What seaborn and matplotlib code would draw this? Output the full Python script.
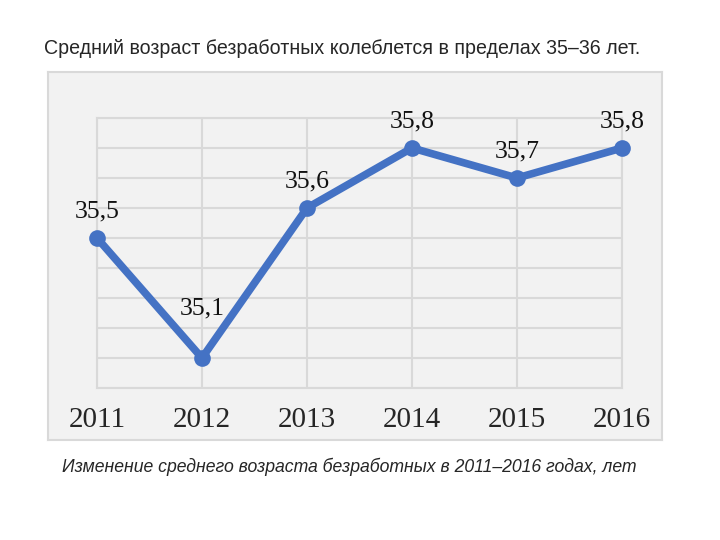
"""
Average age of the unemployed, 2011-2016 (slide-style line chart).
"""

import numpy as np
import pandas as pd
import matplotlib.pyplot as plt
import seaborn as sns

# ── Data ────────────────────────────────────────────────────────────────
years = ["2011", "2012", "2013", "2014", "2015", "2016"]
avg_age = [35.5, 35.1, 35.6, 35.8, 35.7, 35.8]
y_grid = [35.0, 35.1, 35.2, 35.3, 35.4, 35.5, 35.6, 35.7, 35.8, 35.9]

TITLE = "Средний возраст безработных колеблется в пределах 35–36 лет."
CAPTION = "Изменение среднего возраста безработных в 2011–2016 годах, лет"

LINE_COLOR = "#4472C4"
GRID_COLOR = "#d9d9d9"
PANEL_COLOR = "#f2f2f2"

sns.set_style("white")
plt.rcParams["font.family"] = ["Liberation Sans", "DejaVu Sans"]

df = pd.DataFrame({"year": np.arange(len(years)), "age": avg_age})

fig = plt.figure(figsize=(7.2, 5.4), dpi=100)
fig.patch.set_facecolor("white")

# grey chart panel behind the plot
bg = fig.add_axes([0.0667, 0.1852, 0.8528, 0.6815])
bg.set_facecolor(PANEL_COLOR)
bg.set_xticks([])
bg.set_yticks([])
for side in bg.spines.values():
    side.set_color(GRID_COLOR)
    side.set_linewidth(1.5)

ax = fig.add_axes([0.1347, 0.2815, 0.7292, 0.5])
ax.set_facecolor(PANEL_COLOR)

sns.lineplot(data=df, x="year", y="age", ax=ax, color=LINE_COLOR,
             linewidth=5.5, marker="o", markersize=12, markeredgewidth=0,
             clip_on=False, zorder=3)

ax.set_xlim(0, len(years) - 1)
ax.set_ylim(y_grid[0], y_grid[-1])
ax.set_xticks(df["year"])
ax.set_xticklabels(years, family="Liberation Serif", fontsize=21)
ax.set_yticks(y_grid)
ax.set_yticklabels([])
ax.tick_params(axis="both", length=0)
ax.tick_params(axis="x", pad=14)
ax.set_xlabel("")
ax.set_ylabel("")
ax.grid(True, color=GRID_COLOR, linewidth=1.5)
for side in ax.spines.values():
    side.set_color(GRID_COLOR)
    side.set_linewidth(1.5)

# data labels (the 2012 label sits higher, above the crossing lines)
for i, v in enumerate(avg_age):
    dy = 28 if i == 1 else 11
    ax.annotate(f"{v:.1f}".replace(".", ","), (i, v), xytext=(0, dy),
                textcoords="offset points", ha="center", va="bottom",
                family="Liberation Serif", fontsize=18.5, color="#111111")

fig.text(0.061, 0.911, TITLE, ha="left", va="center", fontsize=14.1)
fig.text(0.086, 0.135, CAPTION, ha="left", va="center", fontsize=12.7,
         style="italic")

plt.savefig("out.png", dpi=100)
plt.close()
